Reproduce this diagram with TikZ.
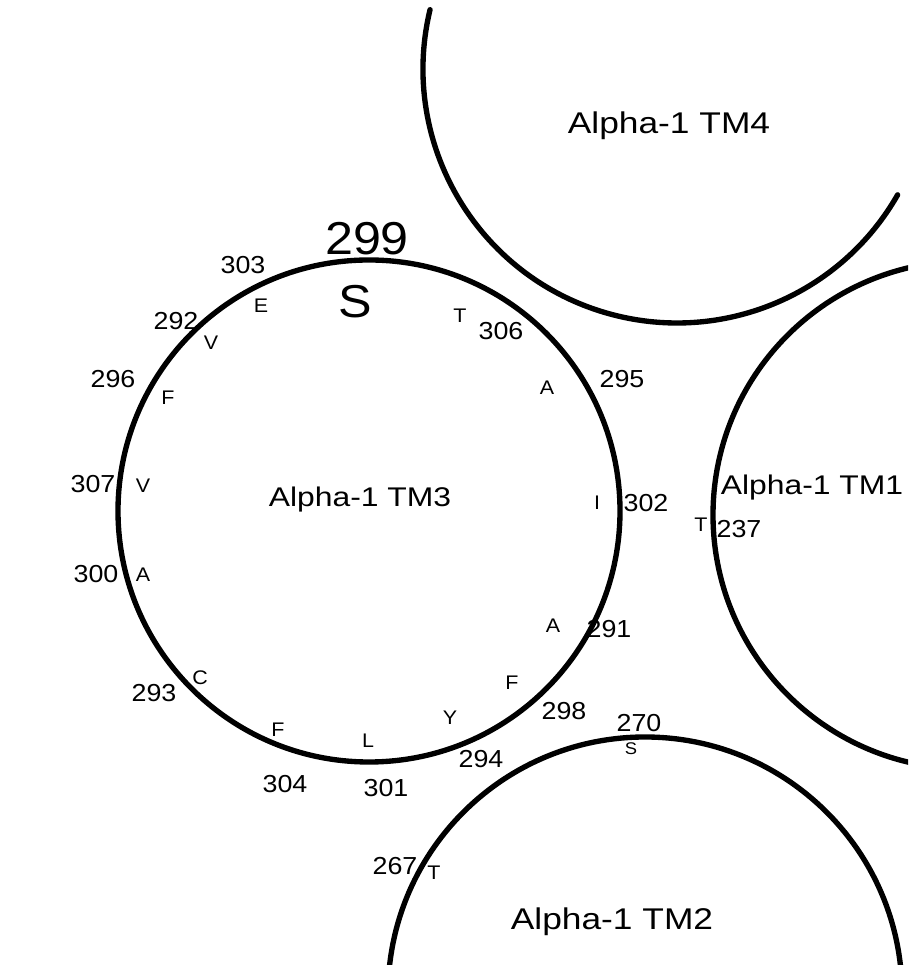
\documentclass[tikz,border=0pt]{standalone}
\usepackage{fontspec}
\setmainfont{Liberation Sans}[FakeStretch=1.09]
\newfontfamily\tmfont{Liberation Sans}[FakeStretch=1.18]
\begin{document}
\begin{tikzpicture}[x=0.025cm, y=0.025cm, line join=round, line cap=round,
	helix/.style={line width=3.8pt},
	num/.style={anchor=base, inner sep=0pt, font=\fontsize{17.5}{20}\selectfont},
	res/.style={anchor=base, inner sep=0pt, font=\fontsize{14}{16}\selectfont},
	big/.style={anchor=base, inner sep=0pt, font=\fontsize{32.8}{36}\selectfont},
	tmlabel/.style={anchor=base, inner sep=0pt, font=\tmfont\fontsize{21.3}{24}\selectfont}]
	\useasboundingbox (0,0) rectangle (908,965);
	\clip (0,0) rectangle (908,965);
	% helix centres
	\coordinate (c3) at (369,454);
	\coordinate (c1) at (967,450);
	\coordinate (c2) at (645,-29);
	\coordinate (c4) at (677,896);
	\draw[helix] (c3) circle[radius=251];
	\draw[helix] (c1) circle[radius=254];
	\draw[helix] (c2) circle[radius=257];
	\draw[helix] (c4) ++(166.5:254) arc[start angle=166.5, end angle=330.3, radius=254];
	% helix names
	\node[tmlabel] (tm4) at (669,831) {Alpha-1 TM4};
	\node[tmlabel] (tm2) at (612,35) {Alpha-1 TM2};
	\node[tmlabel, font=\tmfont\fontsize{19.2}{22}\selectfont] (tm1) at (812,470) {Alpha-1 TM1};
	\node[tmlabel, font=\tmfont\fontsize{19.2}{22}\selectfont] (tm3) at (360,458) {Alpha-1 TM3};
	% residue 299
	\node[big] (n299) at (367,710) {299};
	\node[big] (r299) at (355,647) {S};
	% residue numbers
	\foreach \t/\x/\y in {303/243/691, 292/176/635, 296/113/577, 306/501/625,
		295/622/577, 302/646/453, 307/93/472, 300/96/382, 293/154/263,
		291/609/327, 298/564/245, 294/481/197, 304/285/172, 301/386/168,
		237/739/427, 270/639/233, 267/395/90}
		\node[num] (n\t) at (\x,\y) {\t};
	% residue letters
	\foreach \t/\l/\x/\y in {303/E/261/652, 292/V/211/615, 296/F/168/560,
		306/T/460/642, 295/A/547/570, 302/I/597/455, 307/V/143/472,
		300/A/143/383, 293/C/200/280, 291/A/553/332, 298/F/512/275,
		294/Y/450/240, 301/L/368/217, 304/F/278/228, 237/T/701/433,
		267/T/434/85}
		\node[res] (r\t) at (\x,\y) {\l};
	\node[res, font=\fontsize{12}{14}\selectfont] (r270) at (631,210) {S};
\end{tikzpicture}
\end{document}
